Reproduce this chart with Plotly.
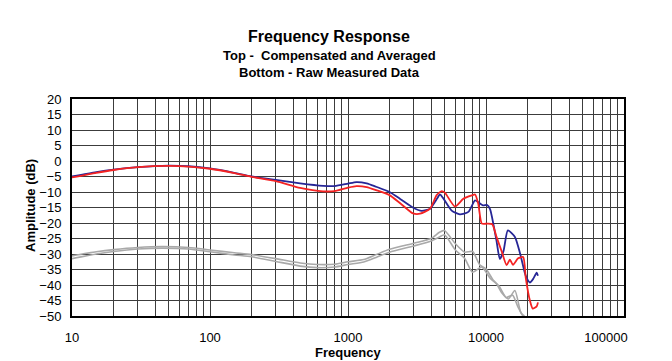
import plotly.graph_objects as go

# ---- data ----
blue_freq = [10, 15, 20, 30, 50, 70, 100, 150, 200, 300, 450, 660, 800, 1000, 1150, 1365, 1600, 2000,
             2400, 2950, 3420, 3930, 4300, 4640, 4880, 5640, 6470, 7450, 8330, 8800, 9500, 10200, 10700,
             11900, 12600, 13400, 14400, 16200, 17700, 19400, 20800, 22000, 23300, 23800]
blue_db = [-5.0, -3.6, -2.8, -2.0, -1.5, -1.7, -2.4, -3.8, -5.0, -6.1, -7.2, -8.0, -8.1, -7.3, -6.8, -7.2, -8.3, -10.0,
           -12.3, -15.0, -16.1, -15.4, -13.0, -10.8, -11.9, -16.0, -17.2, -16.4, -12.7, -13.3, -14.3, -14.2, -15.5,
           -25.6, -31.6, -29.0, -22.4, -24.5, -30.0, -37.0, -39.2, -38.0, -36.0, -37.0]

red_freq = [10, 15, 20, 30, 50, 70, 100, 150, 200, 300, 450, 660, 800, 1000, 1150, 1365, 1600, 2000,
            2400, 2960, 3330, 3930, 4390, 4780, 5050, 5960, 6850, 7900, 8330, 8790, 9330, 10200, 11100,
            11900, 13000, 14100, 14900, 15700, 17100, 18600, 19400, 20800, 21800, 23300, 23800]
red_db = [-5.3, -3.8, -2.9, -2.0, -1.6, -1.8, -2.5, -3.9, -5.1, -6.5, -8.7, -9.8, -9.7, -8.6, -8.1, -8.4, -9.4, -11.0,
          -13.7, -16.9, -17.0, -15.4, -11.0, -9.7, -10.3, -14.7, -12.2, -11.1, -10.8, -13.8, -20.2, -20.2, -20.4,
          -24.4, -29.2, -33.6, -31.8, -33.5, -31.4, -31.0, -37.6, -45.0, -47.6, -46.9, -45.6]

gray_a_freq = [10, 15, 20, 30, 45, 70, 100, 150, 200, 300, 450, 600, 800, 1000, 1300, 1600, 2000, 3000, 4000,
               4600, 5000, 6000, 7000, 8000, 9000, 10000, 11300, 12500, 14000, 15600, 17000, 18500]
gray_a_db = [-30.6, -29.3, -28.6, -27.9, -27.6, -27.9, -28.7, -29.6, -30.2, -31.5, -32.9, -33.4, -33.3, -32.5,
             -31.8, -30.2, -28.5, -26.5, -25.0, -23.0, -22.4, -26.7, -29.4, -29.2, -33.5, -34.8, -38.5, -40.5,
             -44.0, -43.3, -47.0, -50.0]

gray_b_freq = [10, 15, 20, 30, 45, 70, 100, 150, 200, 300, 450, 600, 800, 1000, 1300, 1600, 2000, 3000, 4000,
               4600, 5000, 6000, 7000, 8000, 9300, 10800, 11900, 13000, 14500, 16200, 17900, 19000]
gray_b_db = [-31.5, -30.0, -29.2, -28.4, -28.1, -28.4, -29.3, -30.3, -30.9, -32.4, -33.9, -34.4, -34.2, -33.4,
             -32.6, -31.1, -29.4, -27.4, -25.8, -24.5, -23.8, -28.7, -31.4, -35.9, -34.2, -38.0, -39.6, -42.5,
             -44.5, -41.8, -49.0, -50.0]

x_tickvals = [10, 100, 1000, 10000, 100000]
x_ticktext = ["10", "100", "1000", "10000", "100000" + "\u00a0" * 10]
x_minor = [m * d for d in [10, 100, 1000, 10000] for m in range(2, 10)]

title_lines = ["Frequency Response", "Top -  Compensated and Averaged", "Bottom - Raw Measured Data"]

FONT = "Liberation Sans, Arial, sans-serif"
GRID = "#3c3c3c"

# the page adds an 8px offset; plot area wanted on screen at x 72..624, y 99..316
OFF = 8
L, R, T, B = 72 - OFF, 624 - OFF, 99 - OFF, 316 - OFF

fig = go.Figure()
for fx, fy, col, w in [(gray_a_freq, gray_a_db, "#a9a9a9", 1.6),
                       (gray_b_freq, gray_b_db, "#a9a9a9", 1.6),
                       (blue_freq, blue_db, "#262696", 1.8),
                       (red_freq, red_db, "#f42222", 1.8)]:
    fig.add_trace(go.Scatter(x=fx, y=fy, mode="lines",
                             line=dict(color=col, width=w, shape="spline", smoothing=0.6),
                             hoverinfo="skip"))

fig.update_layout(
    width=672, height=361,
    margin=dict(l=L, r=672 - R, t=T, b=361 - B),
    paper_bgcolor="white", plot_bgcolor="white",
    showlegend=False,
    font=dict(family=FONT, color="black", size=13),
)
fig.update_xaxes(
    type="log", range=[1, 5],
    tickvals=x_tickvals, ticktext=x_ticktext,
    showgrid=True, gridcolor=GRID, gridwidth=1,
    minor=dict(tickvals=x_minor, showgrid=True, gridcolor=GRID, gridwidth=1, ticks=""),
    showline=True, mirror=True, linecolor="black", linewidth=2,
    ticks="", ticklabelstandoff=8,
    tickfont=dict(size=13, family=FONT),
    zeroline=False,
)
fig.update_yaxes(
    range=[-50, 20], tick0=0, dtick=5,
    showgrid=True, gridcolor=GRID, gridwidth=1,
    showline=True, mirror=True, linecolor="black", linewidth=2,
    ticks="", ticklabelstandoff=6,
    tickfont=dict(size=13, family=FONT),
    zeroline=False,
)

def ypix(py):
    return ((B + OFF) - py) / float(B - T)

def xpix(px):
    return (px - (L + OFF)) / float(R - L)

ann = [
    (title_lines[0], 37, 16),
    (title_lines[1], 55, 13),
    (title_lines[2], 72.5, 13),
]
for txt, py, sz in ann:
    fig.add_annotation(text="<b>%s</b>" % txt, xref="paper", yref="paper",
                       x=xpix(329), y=ypix(py), xanchor="center", yanchor="middle",
                       showarrow=False, font=dict(size=sz, family=FONT, color="black"))

fig.add_annotation(text="<b>Amplitude (dB)</b>", xref="paper", yref="paper",
                   x=xpix(30), y=ypix(206), xanchor="center", yanchor="middle", textangle=-90,
                   showarrow=False, font=dict(size=13, family=FONT, color="black"))
fig.add_annotation(text="<b>Frequency</b>", xref="paper", yref="paper",
                   x=xpix(348), y=ypix(352), xanchor="center", yanchor="middle",
                   showarrow=False, font=dict(size=13, family=FONT, color="black"))

fig.write_html("out.html")
